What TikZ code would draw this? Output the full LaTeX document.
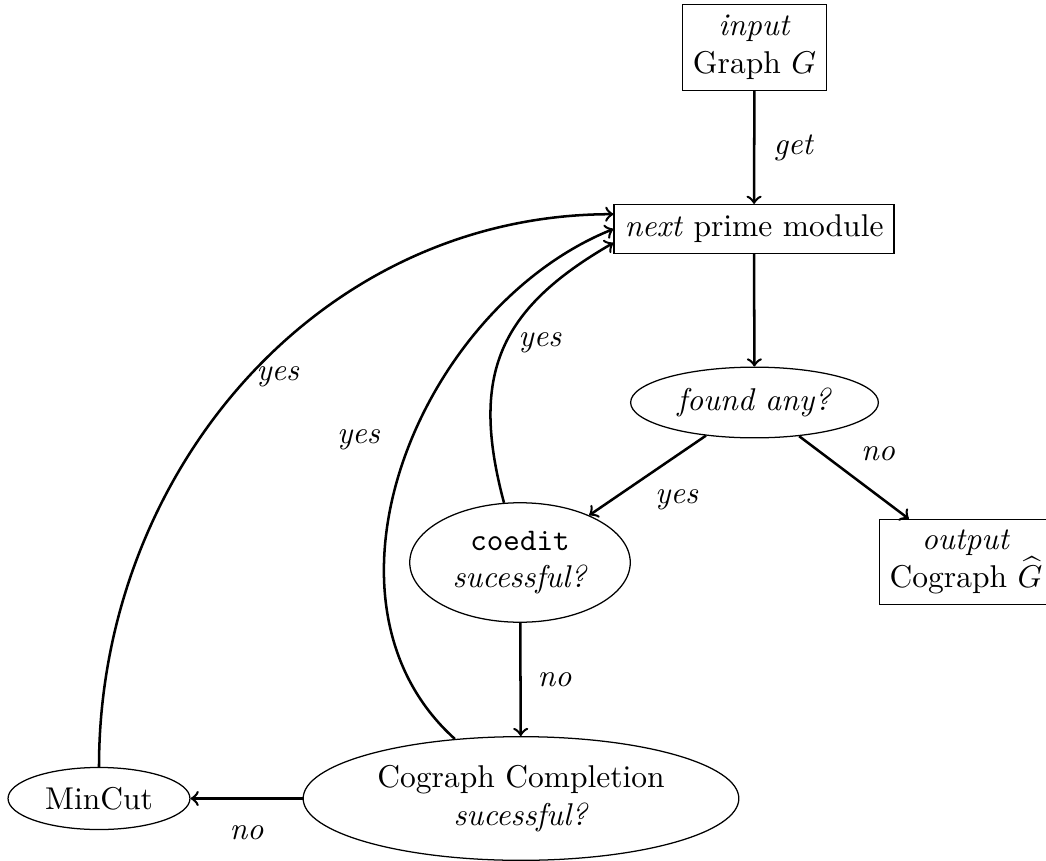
\documentclass[tikz,border=0pt]{standalone}
\usetikzlibrary{shapes.geometric}
\begin{document}
\begin{tikzpicture}[x=0.3175pt,y=-0.3175pt,
  box/.style={draw,align=center},
  oval/.style={draw,ellipse,align=center},
  arr/.style={->,thick},
  lbl/.style={font=\itshape}]
\useasboundingbox (0,0) rectangle (1046,861);

% nodes
\node[box]  (in)     at (754.5,47.5) {\textit{input}\\Graph $G$};
\node[box]  (next)   at (754,229)    {\textit{next} prime module};
\node[oval] (found)  at (754.5,402.5) {\textit{found any?}};
\node[oval] (coedit) at (520,562.5)  {\texttt{coedit}\\\textit{sucessful?}};
\node[box]  (out)    at (966,562)    {\textit{output}\\Cograph $\widehat{G}$};
\node[oval] (cc)     at (521,798.5)  {Cograph Completion\\\textit{sucessful?}};
\node[oval] (mincut) at (99,798.5)   {MinCut};

% straight connectors
\draw[arr] (in) -- node[lbl,pos=0.5,shift={(39,0)}] {get} (next);
\draw[arr] (next) -- (found);
\draw[arr] (found) -- node[lbl,pos=0.5,shift={(29,24)}] {yes} (coedit);
\draw[arr] (found) -- node[lbl,pos=0.5,shift={(24,-24)}] {no} (out);
\draw[arr] (coedit) -- node[lbl,pos=0.5,shift={(34,0)}] {no} (cc);
\draw[arr] (cc) -- node[lbl,pos=0.5,shift={(0,34.5)}] {no} (mincut);

% loops back to the next prime module
\draw[arr] (mincut) to[out=90,in=180]
  node[lbl,pos=0.5,shift={(32,-3)}] {yes} ([yshift=4.7pt]next.west);
\draw[arr] (cc) to[out=138,in=202]
  node[lbl,pos=0.5,shift={(-45,-21)}] {yes} (next.west);
\draw[arr] (coedit) to[out=105,in=210,looseness=1.2]
  node[lbl,pos=0.5,shift={(37,-7)}] {yes} ([yshift=-4.4pt]next.west);
\end{tikzpicture}
\end{document}
